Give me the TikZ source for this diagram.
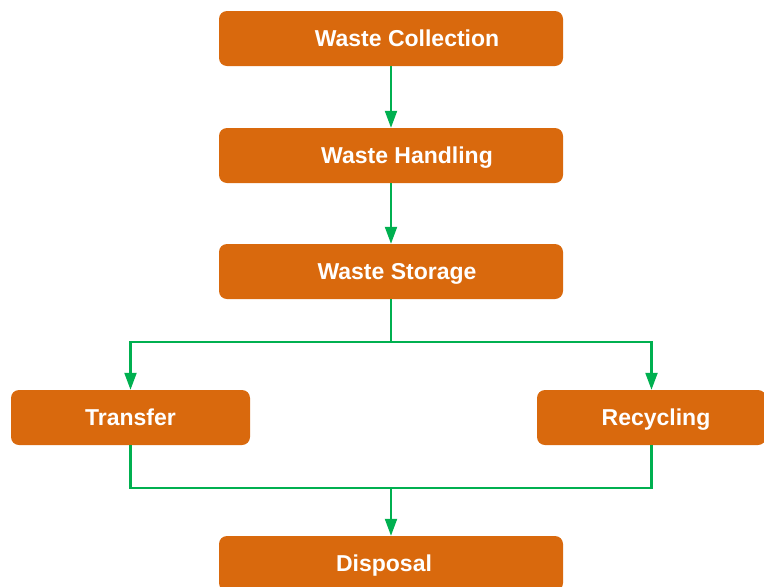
\documentclass[tikz,border=0pt]{standalone}
\usepackage{fontspec}
\setmainfont{Liberation Sans}
\usetikzlibrary{arrows.meta,positioning,calc}
\definecolor{boxorange}{RGB}{217,105,13}
\definecolor{flowgreen}{RGB}{0,176,80}
\begin{document}
\begin{tikzpicture}[x=1pt,y=-1pt,
    stage/.style={fill=boxorange,text=white,rounded corners=8pt,minimum width=344pt,
      minimum height=55pt,inner sep=0pt,text height=16.5pt,text depth=0pt,
      font=\fontsize{23}{27}\selectfont\bfseries},
    link/.style={draw=flowgreen,line width=2.2pt},
    flow/.style={link,-{Triangle[length=17pt,width=12pt]}}]
  \clip (0,0) rectangle (764,587);
  \useasboundingbox (0,0) rectangle (764,587);

  \node[stage] (collection) at (391,38.5) {\hspace*{32pt}Waste Collection};
  \node[stage] (handling) at (391,155.5) {\hspace*{32pt}Waste Handling};
  \node[stage] (storage) at (391,271.5) {\hspace*{12pt}Waste Storage};
  \node[stage,minimum width=239pt] (transfer) at (130.5,417.5) {Transfer};
  \node[stage,minimum width=229pt] (recycling) at (651.5,417.5) {\hspace*{9pt}Recycling};
  \node[stage] (disposal) at (391,563.5) {\hspace*{-14pt}Disposal};

  \coordinate (split) at (391,342);
  \coordinate (merge) at (391,488);

  \draw[flow] (collection) -- (handling);
  \draw[flow] (handling) -- (storage);
  \draw[link] (storage.south) -- (split);
  \draw[flow] (split) -| (transfer.north);
  \draw[flow] (split) -| (recycling.north);
  \draw[link] (transfer.south) |- (merge) -| (recycling.south);
  \draw[flow] (merge) -- (disposal.north);
\end{tikzpicture}
\end{document}
